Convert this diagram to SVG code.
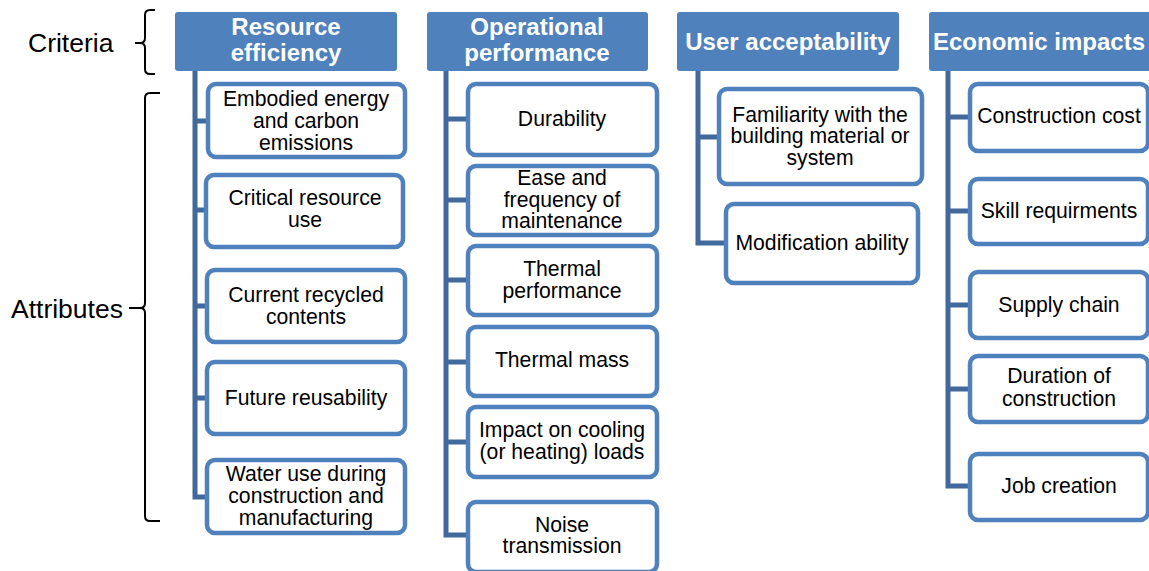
<svg xmlns="http://www.w3.org/2000/svg" width="1149" height="571" viewBox="0 0 1149 571">
<style>
.hdr{fill:#4F81BD;}
.ht{font-family:"Liberation Sans",Arial,sans-serif;font-size:24px;font-weight:bold;fill:#fff;text-anchor:middle;}
.box{fill:#fff;stroke:#4F81BD;stroke-width:4.5;}
.bt{font-family:"Liberation Sans",Arial,sans-serif;font-size:21.2px;fill:#000;text-anchor:middle;}
.lbl{font-family:"Liberation Sans",Arial,sans-serif;font-size:26.5px;fill:#000;}
.con{fill:none;stroke:#41699C;stroke-width:5;}
.brace{fill:none;stroke:#000;stroke-width:2;}
</style>
<rect width="1149" height="571" fill="#fff"/>

<g id="labels">
<text class="lbl" x="28" y="52">Criteria</text>
<text class="lbl" x="11" y="318">Attributes</text>
<path class="brace" d="M155,10 H150 Q145,10 145,15 V38 Q145,43 140,43 H135 M140,43 Q145,43 145,48 V69 Q145,74 150,74 H155"/>
<path class="brace" d="M160,93 H150 Q145,93 145,98 V303 Q145,308 140,308 H129 M140,308 Q145,308 145,313 V516 Q145,521 150,521 H160"/>
</g>

<g id="connectors">
<path class="con" d="M195,71 V497 H208 M195,121 H208 M195,210 H206 M195,306 H207 M195,398 H207"/>
<path class="con" d="M446,71 V535 H468 M446,119 H468 M446,200 H468 M446,280 H468 M446,362 H468 M446,442 H468"/>
<path class="con" d="M698,71 V243 H725 M698,137 H718"/>
<path class="con" d="M948,71 V486 H969 M948,117 H969 M948,211 H969 M948,305 H969 M948,389 H969"/>
</g>

<g id="h-resource">
<rect class="hdr" x="175" y="12" width="222" height="59" rx="3"/>
<text class="ht" x="286" y="35">Resource</text>
<text class="ht" x="286" y="61">efficiency</text>
</g>
<g id="h-operational">
<rect class="hdr" x="427" y="12" width="221" height="59" rx="3"/>
<text class="ht" x="537" y="35">Operational</text>
<text class="ht" x="537" y="61">performance</text>
</g>
<g id="h-user">
<rect class="hdr" x="677" y="12" width="222" height="59" rx="3"/>
<text class="ht" x="788" y="50">User acceptability</text>
</g>
<g id="h-economic">
<rect class="hdr" x="929" y="12" width="224" height="59" rx="3"/>
<text class="ht" x="1039" y="50">Economic impacts</text>
</g>

<g id="b-embodied">
<rect class="box" x="208" y="84" width="197" height="73" rx="8"/>
<text class="bt" x="306" y="106">Embodied energy</text>
<text class="bt" x="306" y="128">and carbon</text>
<text class="bt" x="306" y="150">emissions</text>
</g>
<g id="b-critical">
<rect class="box" x="206" y="175" width="197" height="72" rx="8"/>
<text class="bt" x="305" y="205">Critical resource</text>
<text class="bt" x="305" y="227">use</text>
</g>
<g id="b-recycled">
<rect class="box" x="207" y="270" width="198" height="72" rx="8"/>
<text class="bt" x="306" y="302">Current recycled</text>
<text class="bt" x="306" y="324">contents</text>
</g>
<g id="b-reuse">
<rect class="box" x="207" y="362" width="198" height="72" rx="8"/>
<text class="bt" x="306" y="405">Future reusability</text>
</g>
<g id="b-water">
<rect class="box" x="207" y="460" width="198" height="73" rx="8"/>
<text class="bt" x="306" y="481">Water use during</text>
<text class="bt" x="306" y="503">construction and</text>
<text class="bt" x="306" y="525">manufacturing</text>
</g>

<g id="b-durability">
<rect class="box" x="468" y="84" width="189" height="71" rx="8"/>
<text class="bt" x="562" y="126">Durability</text>
</g>
<g id="b-ease">
<rect class="box" x="468" y="166" width="189" height="69" rx="8"/>
<text class="bt" x="562" y="185">Ease and</text>
<text class="bt" x="562" y="207">frequency of</text>
<text class="bt" x="562" y="228">maintenance</text>
</g>
<g id="b-thermalperf">
<rect class="box" x="468" y="246" width="189" height="69" rx="8"/>
<text class="bt" x="562" y="276">Thermal</text>
<text class="bt" x="562" y="298">performance</text>
</g>
<g id="b-thermalmass">
<rect class="box" x="468" y="327" width="189" height="69" rx="8"/>
<text class="bt" x="562" y="367">Thermal mass</text>
</g>
<g id="b-impact">
<rect class="box" x="468" y="407" width="189" height="70" rx="8"/>
<text class="bt" x="562" y="437">Impact on cooling</text>
<text class="bt" x="562" y="459">(or heating) loads</text>
</g>
<g id="b-noise">
<rect class="box" x="468" y="502" width="189" height="70" rx="8"/>
<text class="bt" x="562" y="532">Noise</text>
<text class="bt" x="562" y="553">transmission</text>
</g>

<g id="b-familiarity">
<rect class="box" x="719" y="89" width="203" height="95" rx="8"/>
<text class="bt" x="820" y="122">Familiarity with the</text>
<text class="bt" x="820" y="143">building material or</text>
<text class="bt" x="820" y="165">system</text>
</g>
<g id="b-modification">
<rect class="box" x="726" y="204" width="192" height="79" rx="8"/>
<text class="bt" x="822" y="250">Modification ability</text>
</g>

<g id="b-cost">
<rect class="box" x="970" y="84" width="178" height="67" rx="8"/>
<text class="bt" x="1059" y="123">Construction cost</text>
</g>
<g id="b-skill">
<rect class="box" x="970" y="179" width="178" height="65" rx="8"/>
<text class="bt" x="1059" y="218">Skill requirments</text>
</g>
<g id="b-supply">
<rect class="box" x="970" y="272" width="178" height="66" rx="8"/>
<text class="bt" x="1059" y="312">Supply chain</text>
</g>
<g id="b-duration">
<rect class="box" x="970" y="356" width="178" height="66" rx="8"/>
<text class="bt" x="1059" y="383">Duration of</text>
<text class="bt" x="1059" y="406">construction</text>
</g>
<g id="b-job">
<rect class="box" x="970" y="454" width="178" height="66" rx="8"/>
<text class="bt" x="1059" y="493">Job creation</text>
</g>
</svg>
